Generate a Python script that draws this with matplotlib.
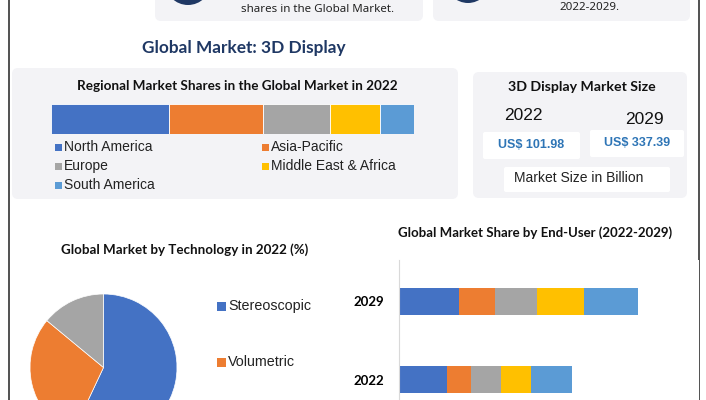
import matplotlib.pyplot as plt
import numpy as np
from matplotlib.patches import FancyBboxPatch, Circle, Rectangle

regioni = ['North America', 'Asia-Pacific', 'Europe', 'Middle East & Africa', 'South America']
quote_regioni = [32.5, 25.9, 18.4, 13.8, 9.4]

tecnologie = ['Stereoscopic', 'Volumetric', 'Others']
quote_tecnologie = [57, 29, 14]

anni_end_user = ['2022', '2029']
end_user_2022 = [48, 24, 30, 30, 41]
end_user_2029 = [60, 36, 42, 47, 54]

anni_size = ['2022', '2029']
valori_size = ['US$ 101.98', 'US$ 337.39']

colori = ['#4472c4', '#ed7d31', '#a5a5a5', '#ffc000', '#5b9bd5']
card_bg = '#f3f3f6'
navy = '#1f3864'

W, H = 706, 400
fig = plt.figure(figsize=(W / 100, H / 100), dpi=100)


def px_axes(x0, y0, w, h):
    # asse posizionato in pixel (origine in alto a sinistra)
    return fig.add_axes([x0 / W, 1 - (y0 + h) / H, w / W, h / H])


bg = fig.add_axes([0, 0, 1, 1])
bg.set_xlim(0, W)
bg.set_ylim(H, 0)
bg.axis('off')


def card(x0, y0, x1, y1, color=card_bg, r=6):
    bg.add_patch(FancyBboxPatch((x0 + r, y0 + r), x1 - x0 - 2 * r, y1 - y0 - 2 * r,
                                boxstyle=f'round,pad={r}', fc=color, ec='none', zorder=1))


# bordi laterali
bg.plot([9, 9], [0, H], color='#333333', lw=1.2, zorder=5)
bg.plot([699, 699], [0, H], color='#333333', lw=1.2, zorder=5)

# schede in alto
card(155, -20, 423, 21)
card(433, -20, 690, 21)
bg.add_patch(Circle((188, -18), 23, fc=navy, ec='none', zorder=2))
bg.add_patch(Circle((468, -19), 22, fc=navy, ec='none', zorder=2))
bg.text(318, 9, 'shares in the Global Market.', ha='center', va='center',
        fontsize=8.3, family='Noto Sans', color='#222222', zorder=3)
bg.text(590, 8, '2022-2029.', ha='center', va='center',
        fontsize=8.3, family='Noto Sans', color='#222222', zorder=3)

bg.text(244, 48, 'Global Market: 3D Display', ha='center', va='center',
        fontsize=12.4, family='Lato', weight='bold', color=navy)

# pannello quote regionali
card(12, 68, 458, 199)
bg.text(237, 86, 'Regional Market Shares in the Global Market in 2022', ha='center',
        va='center', fontsize=9.7, family='Lato', weight='bold', color='#111111', zorder=3)

ax1 = px_axes(51, 104, 363, 30)
left = 0
for val, col in zip(quote_regioni, colori):
    ax1.barh(0, val, left=left, height=1, color=col, edgecolor='white', linewidth=0.6)
    left += val
ax1.set_xlim(0, sum(quote_regioni))
ax1.set_ylim(-0.5, 0.5)
ax1.axis('off')

leg_pos = [(55, 147), (262, 147), (55, 166), (262, 166), (55, 185)]
for (lx, ly), nome, col in zip(leg_pos, regioni, colori):
    bg.add_patch(Rectangle((lx, ly - 3.5), 7, 7, fc=col, ec='none', zorder=3))
    bg.text(lx + 9, ly, nome, ha='left', va='center', fontsize=10,
            family='Liberation Sans', color='#222222', zorder=3)

# pannello dimensione mercato
card(473, 72, 687, 198)
bg.text(582, 87, '3D Display Market Size', ha='center', va='center', fontsize=10.2,
        family='Lato', weight='bold', color='#111111', zorder=3)
bg.text(523, 116, anni_size[0], ha='center', va='center', fontsize=12.5,
        family='Liberation Sans', color='#111111', zorder=3)
bg.text(644, 119, anni_size[1], ha='center', va='center', fontsize=12.5,
        family='Liberation Sans', color='#111111', zorder=3)
card(483, 132, 580, 159, color='white', r=2)
card(590, 130, 684, 157, color='white', r=2)
bg.text(531, 145.5, valori_size[0], ha='center', va='center', fontsize=9,
        family='Liberation Sans', weight='bold', color='#2e75b6', zorder=3)
bg.text(637, 143.5, valori_size[1], ha='center', va='center', fontsize=9,
        family='Liberation Sans', weight='bold', color='#2e75b6', zorder=3)
card(504, 167, 670, 192, color='white', r=2)
bg.text(579, 178.5, 'Market Size in Billion', ha='center', va='center', fontsize=10,
        family='Liberation Sans', color='#222222', zorder=3)

# torta per tecnologia
bg.text(185, 250, 'Global Market by Technology in 2022 (%)', ha='center', va='center',
        fontsize=9.6, family='Lato', weight='bold', color='#111111')
ax2 = px_axes(30, 294, 147, 147)
ax2.pie(quote_tecnologie, colors=colori[:3], startangle=90, counterclock=False,
        radius=1, wedgeprops=dict(edgecolor='white', linewidth=0.5))
ax2.set_xlim(-1, 1)
ax2.set_ylim(-1, 1)
ax2.set_aspect('equal')
ax2.axis('off')
for (ly, nome, col) in [(306, tecnologie[0], colori[0]), (362, tecnologie[1], colori[1])]:
    bg.add_patch(Rectangle((217, ly - 4), 9, 9, fc=col, ec='none', zorder=3))
    bg.text(228, ly, nome, ha='left', va='center', fontsize=10.3,
            family='Liberation Sans', color='#222222', zorder=3)

# barre end-user
bg.text(535, 233, 'Global Market Share by End-User (2022-2029)', ha='center', va='center',
        fontsize=9.5, family='Lato', weight='bold', color='#111111')
ax3 = px_axes(399, 260, 300, 140)
valori_eu = [end_user_2022, end_user_2029]
ypos = [0, 1]
for y, vals in zip(ypos, valori_eu):
    left = 0
    for val, col in zip(vals, colori):
        ax3.barh(y, val, left=left, height=0.34, color=col)
        left += val
ax3.set_xlim(0, 300)
ax3.set_ylim(-0.26, 1.53)
for s in ['top', 'right', 'bottom']:
    ax3.spines[s].set_visible(False)
ax3.spines['left'].set_color('#d9d9d9')
ax3.set_xticks([])
ax3.set_yticks(ypos)
ax3.set_yticklabels(anni_end_user, fontsize=9.5, family='Lato', weight='bold')
ax3.tick_params(axis='y', length=0, pad=11)

fig.savefig('out.png', dpi=100)
